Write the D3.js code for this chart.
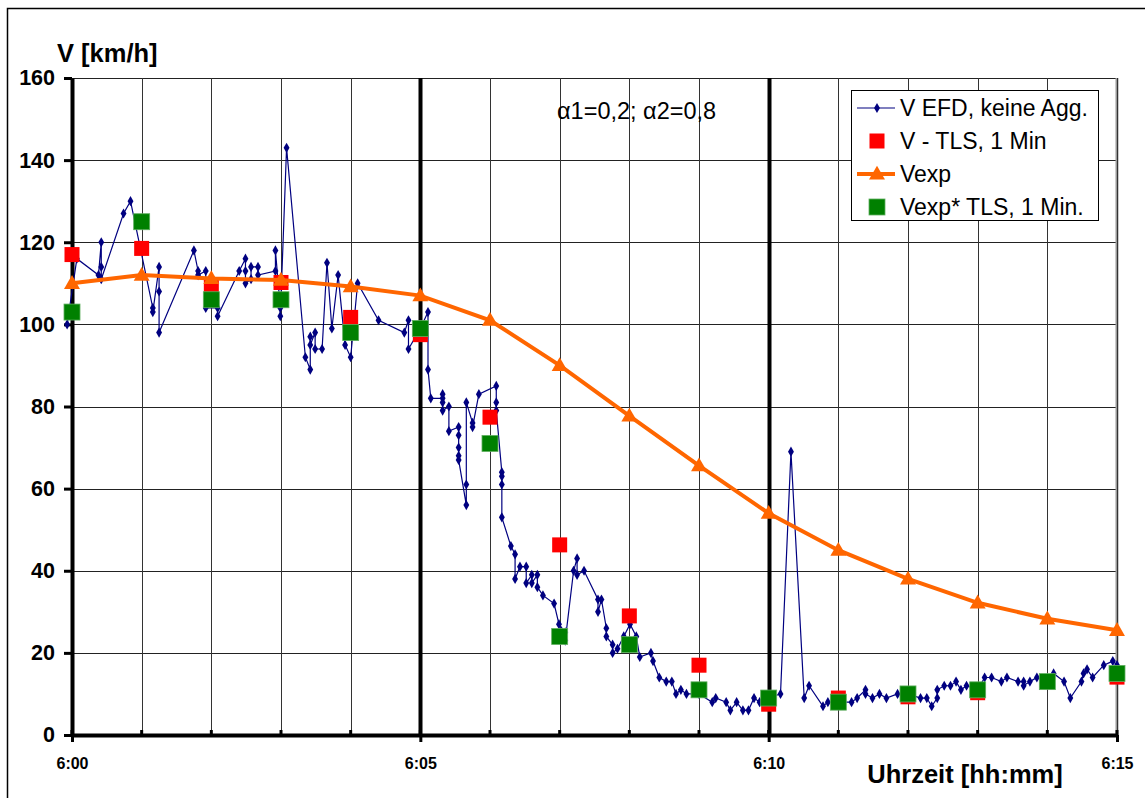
<!DOCTYPE html>
<html>
<head>
<meta charset="utf-8">
<script src="https://cdn.jsdelivr.net/npm/d3@7"></script>
<style>
    body { margin: 0; background: #fff; }
    text { font-family: "Liberation Sans", Arial, sans-serif; }
</style>
</head>
<body>
<svg id="chart"></svg>
<script>
// minutes after 6:00
const minutes = [0, 1, 2, 3, 4, 5, 6, 7, 8, 9, 10, 11, 12, 13, 14, 15];
const vTls = [117, 118.5, 109.6, 110.2, 101.7, 97.5, 77.4, 46.3, 29, 17, 7.5, 9, 9.3, 10.3, 13, 14.1];
const vExp = [110, 112, 111.2, 110.8, 109.2, 107, 101, 90, 77.7, 65.6, 54, 45, 38, 32.2, 28.3, 25.5];
const vExpTls = [103, 125, 106, 106, 98, 99, 71, 24, 22, 11, 9, 8, 10, 11, 13, 15];

// V EFD, raw readings (time in minutes after 6:00, speed)
const efdTime = [
    -0.07, 0.07, 0.38, 0.42, 0.42, 0.42, 0.74, 0.84, 1.16, 1.16, 1.25, 1.25, 1.25, 1.75, 1.81, 1.81,
    1.92, 1.92, 2.09, 2.09, 2.40, 2.49, 2.49, 2.49, 2.57, 2.57, 2.67, 2.67, 2.92, 2.92, 2.99, 2.99,
    3.08, 3.35, 3.42, 3.42, 3.42, 3.49, 3.49, 3.59, 3.66, 3.73, 3.82, 3.92, 4.00, 4.10, 4.40, 4.77,
    4.83, 4.83, 5.00, 5.11, 5.11, 5.15, 5.32, 5.32, 5.32, 5.32, 5.41, 5.41, 5.55, 5.55, 5.55, 5.55,
    5.55, 5.66, 5.66, 5.66, 5.75, 5.75, 5.84, 6.09, 6.09, 6.09, 6.17, 6.17, 6.17, 6.17, 6.30, 6.36,
    6.36, 6.43, 6.52, 6.52, 6.60, 6.60, 6.68, 6.68, 6.76, 6.92, 6.99, 7.08, 7.08, 7.20, 7.25, 7.25,
    7.35, 7.55, 7.55, 7.60, 7.67, 7.67, 7.76, 7.76, 7.83, 7.92, 8.01, 8.10, 8.15, 8.31, 8.34, 8.43,
    8.53, 8.61, 8.67, 8.74, 8.82, 9.00, 9.19, 9.24, 9.39, 9.45, 9.54, 9.63, 9.71, 9.79, 9.87, 10.00,
    10.17, 10.32, 10.51, 10.58, 10.78, 10.85, 11.00, 11.19, 11.27, 11.39, 11.39, 11.49, 11.59, 11.69, 11.85, 12.00,
    12.18, 12.27, 12.34, 12.42, 12.42, 12.52, 12.61, 12.69, 12.76, 12.84, 13.00, 13.10, 13.20, 13.34, 13.42, 13.58,
    13.66, 13.66, 13.75, 13.85, 14.00, 14.09, 14.24, 14.33, 14.49, 14.52, 14.57, 14.65, 14.81, 14.94, 15.00
];
const efdSpeed = [
    100, 116, 112, 120, 114, 111, 127, 130, 104, 103, 114, 108, 98, 118, 113, 112,
    113, 104, 104, 102, 113, 116, 113, 110, 111, 114, 114, 112, 113, 118, 104, 102,
    143, 92, 89, 97, 95, 98, 94, 94, 115, 99, 112, 95, 92, 110, 101, 98,
    101, 94, 99, 103, 89, 82, 82, 83, 81, 79, 80, 74, 75, 73, 70, 68,
    67, 56, 61, 81, 76, 75, 83, 85, 81, 79, 64, 63, 61, 53, 46, 44,
    38, 41, 41, 37, 39, 37, 39, 36, 34, 32, 27, 25, 23, 40, 43, 39,
    40, 33, 30, 33, 26, 24, 22, 20, 21, 24, 27, 24, 19, 20, 18, 14,
    13, 13, 10, 11, 10, 10, 8, 9, 8, 6, 8, 6, 6, 9, 8, 9,
    10, 69, 9, 12, 7, 8, 8, 8, 9, 11, 10, 9, 10, 9, 10, 10,
    9, 9, 7, 9, 11, 12, 12, 13, 11, 12, 11, 14, 14, 13, 14, 13,
    13, 12, 13, 14, 13, 15, 13, 9, 13, 15, 16, 14, 17, 18, 17
];

const xLabels = ["6:00", "6:05", "6:10", "6:15"];
const yTicks = [0, 20, 40, 60, 80, 100, 120, 140, 160];
const legendNames = ["V EFD, keine Agg.", "V - TLS, 1 Min", "Vexp", "Vexp* TLS, 1 Min."];

const W = 1145, H = 798;
const plot = { left: 72, right: 1117, top: 78, bottom: 735 };
const navy = "#000080", red = "#ff0000", orange = "#ff6600", green = "#008000";

const svg = d3.select("#chart").attr("width", W).attr("height", H);

const x = d3.scaleLinear().domain([0, 15]).range([plot.left, plot.right]);
const y = d3.scaleLinear().domain([0, 160]).range([plot.bottom, plot.top]);

// outer frame
svg.append("rect")
    .attr("x", 7.5).attr("y", 8.5)
    .attr("width", W + 20).attr("height", H + 20)
    .attr("fill", "none").attr("stroke", "#000").attr("stroke-width", 1.5);

// grid
const grid = svg.append("g");
grid.selectAll("line.h")
    .data(yTicks.filter(d => d > 0))
    .join("line")
    .attr("class", "h")
    .attr("x1", plot.left).attr("x2", plot.right)
    .attr("y1", d => Math.round(y(d)) + 0.5).attr("y2", d => Math.round(y(d)) + 0.5)
    .attr("stroke", "#222").attr("stroke-width", 1);

grid.append("line")
    .attr("x1", x(15)).attr("x2", x(15))
    .attr("y1", plot.top).attr("y2", plot.bottom)
    .attr("stroke", "#999").attr("stroke-width", 3);

grid.selectAll("line.v")
    .data(minutes.filter(d => d > 0))
    .join("line")
    .attr("class", "v")
    .attr("x1", d => Math.round(x(d)) + 0.5).attr("x2", d => Math.round(x(d)) + 0.5)
    .attr("y1", plot.top).attr("y2", plot.bottom)
    .attr("stroke", d => d % 5 === 0 && d < 15 ? "#000" : "#333")
    .attr("stroke-width", d => d % 5 === 0 && d < 15 ? 4 : 1);

// axes
const yAxis = svg.append("g")
    .attr("transform", `translate(${plot.left}, 0)`)
    .call(d3.axisLeft(y).tickValues(yTicks).tickSize(8).tickPadding(9).tickSizeOuter(0));
yAxis.select(".domain").attr("stroke-width", 4);
yAxis.selectAll(".tick line").attr("stroke-width", 3);
yAxis.selectAll(".tick text")
    .style("font-size", "21.5px").style("font-weight", "bold").attr("fill", "#000");

const xAxis = svg.append("g")
    .attr("transform", `translate(0, ${plot.bottom})`)
    .call(d3.axisBottom(x).tickValues([0, 5, 10, 15])
        .tickFormat((d, i) => xLabels[i]).tickSize(7).tickPadding(16).tickSizeOuter(0));
xAxis.select(".domain").attr("stroke-width", 4);
xAxis.selectAll(".tick line").attr("stroke-width", 3);
xAxis.selectAll(".tick text")
    .style("font-size", "16px").style("font-weight", "bold").attr("fill", "#000");

// small minute ticks above the x axis
svg.append("g").selectAll("line")
    .data(minutes)
    .join("line")
    .attr("x1", d => x(d)).attr("x2", d => x(d))
    .attr("y1", plot.bottom - 5).attr("y2", plot.bottom)
    .attr("stroke", "#000").attr("stroke-width", 3);

// titles
svg.append("text")
    .attr("x", 57).attr("y", 62)
    .style("font-size", "25.5px").style("font-weight", "bold")
    .text("V [km/h]");

svg.append("text")
    .attr("x", 965).attr("y", 783)
    .attr("text-anchor", "middle")
    .style("font-size", "25.5px").style("font-weight", "bold")
    .text("Uhrzeit [hh:mm]");

svg.append("text")
    .attr("x", 557).attr("y", 119)
    .style("font-size", "23.5px")
    .text("α1=0,2; α2=0,8");

// series
const efd = efdTime.map((t, i) => ({ t: t, v: efdSpeed[i] }));
const diamond = d3.symbol().type(d3.symbolDiamond).size(30);
const triangle = d3.symbol().type(d3.symbolTriangle).size(110);

svg.append("path")
    .datum(efd)
    .attr("fill", "none").attr("stroke", navy).attr("stroke-width", 1.2)
    .attr("d", d3.line().x(d => x(d.t)).y(d => y(d.v)));

svg.append("g").selectAll("path")
    .data(efd)
    .join("path")
    .attr("transform", d => `translate(${x(d.t)}, ${y(d.v)})`)
    .attr("d", diamond)
    .attr("fill", navy);

svg.append("g").selectAll("rect")
    .data(minutes)
    .join("rect")
    .attr("x", d => x(d) - 7.5).attr("y", (d, i) => y(vTls[i]) - 7.5)
    .attr("width", 15).attr("height", 15)
    .attr("fill", red);

svg.append("path")
    .datum(minutes)
    .attr("fill", "none").attr("stroke", orange).attr("stroke-width", 4)
    .attr("d", d3.line().x(d => x(d)).y((d, i) => y(vExp[i])));

svg.append("g").selectAll("path")
    .data(minutes)
    .join("path")
    .attr("transform", (d, i) => `translate(${x(d)}, ${y(vExp[i]) + 1})`)
    .attr("d", triangle)
    .attr("fill", orange);

svg.append("g").selectAll("rect")
    .data(minutes)
    .join("rect")
    .attr("x", d => x(d) - 8).attr("y", (d, i) => y(vExpTls[i]) - 8)
    .attr("width", 16).attr("height", 16)
    .attr("fill", green).attr("stroke", "#5fae5f").attr("stroke-width", 0.8);

// legend
const legend = svg.append("g");
legend.append("rect")
    .attr("x", 851.5).attr("y", 90.5).attr("width", 247).attr("height", 130)
    .attr("fill", "#fff").attr("stroke", "#000").attr("stroke-width", 1);

const rowY = [108, 141, 174, 207];
const symX = 877;

legend.append("line")
    .attr("x1", 857).attr("x2", 895).attr("y1", rowY[0]).attr("y2", rowY[0])
    .attr("stroke", navy).attr("stroke-width", 1.2);
legend.append("path")
    .attr("transform", `translate(${symX}, ${rowY[0]})`)
    .attr("d", diamond).attr("fill", navy);

legend.append("rect")
    .attr("x", symX - 7.5).attr("y", rowY[1] - 7.5).attr("width", 15).attr("height", 15)
    .attr("fill", red);

legend.append("line")
    .attr("x1", 857).attr("x2", 895).attr("y1", rowY[2]).attr("y2", rowY[2])
    .attr("stroke", orange).attr("stroke-width", 4);
legend.append("path")
    .attr("transform", `translate(${symX}, ${rowY[2] + 1})`)
    .attr("d", triangle).attr("fill", orange);

legend.append("rect")
    .attr("x", symX - 8).attr("y", rowY[3] - 8).attr("width", 16).attr("height", 16)
    .attr("fill", green).attr("stroke", "#5fae5f").attr("stroke-width", 0.8);

legend.selectAll("text")
    .data(legendNames)
    .join("text")
    .attr("x", 900).attr("y", (d, i) => rowY[i] + 8)
    .style("font-size", "23px")
    .text(d => d);
</script>
</body>
</html>
